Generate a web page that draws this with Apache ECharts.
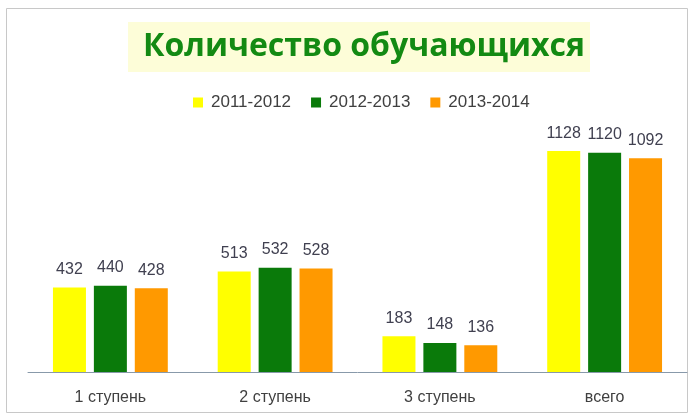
<!DOCTYPE html>
<html><head><meta charset="utf-8">
<script src="https://cdn.jsdelivr.net/npm/echarts@6/dist/echarts.min.js"></script>
<style>html,body{margin:0;padding:0;background:#fff}#c{width:693px;height:420px}</style>
</head><body><div id="c"></div>
<script>
var categories = ['1 ступень', '2 ступень', '3 ступень', 'всего'];
var seriesNames = ['2011-2012', '2012-2013', '2013-2014'];
var values2011 = [432, 513, 183, 1128];
var values2012 = [440, 532, 148, 1120];
var values2013 = [428, 528, 136, 1092];
var colors = ['#ffff00', '#0a7a0a', '#ff9900'];
var FONT = 'Liberation Sans';
var chart = echarts.init(document.getElementById('c'));
function mk(name, data, color) {
  return {
    name: name, type: 'bar', data: data, barWidth: 33, barGap: '24%',
    itemStyle: { color: color },
    label: { show: true, position: 'top', distance: 10, color: '#404050', fontSize: 16, fontFamily: FONT }
  };
}
chart.setOption({
  animation: false,
  backgroundColor: '#fff',
  graphic: [
    { type: 'rect', shape: { x: 6.5, y: 8.5, width: 681, height: 404 }, style: { fill: 'none', stroke: '#c8c8c8', lineWidth: 1 } },
    { type: 'rect', shape: { x: 128, y: 22, width: 462, height: 50 }, style: { fill: '#fdfdd8' }, z: -1 }
  ],
  title: {
    text: 'Количество обучающихся', left: 359, top: 26, textAlign: 'center',
    textStyle: { color: '#138a13', fontSize: 32, fontWeight: 'bold', fontFamily: 'Open Sans' }
  },
  legend: {
    data: seriesNames, top: 89, left: 188, itemWidth: 10, itemHeight: 10, itemGap: 20,
    icon: 'rect', textStyle: { color: '#404040', fontSize: 17, padding: [0, 0, 0, 3], fontFamily: FONT }
  },
  grid: { left: 28, right: 6, top: 137, bottom: 48 },
  xAxis: {
    type: 'category', data: categories,
    axisLine: { lineStyle: { color: '#8899aa' } }, axisTick: { show: false },
    axisLabel: { color: '#404040', fontSize: 16, margin: 18, fontFamily: FONT }
  },
  yAxis: { type: 'value', min: 0, max: 1200, show: false, splitLine: { show: false } },
  series: [mk(seriesNames[0], values2011, colors[0]), mk(seriesNames[1], values2012, colors[1]), mk(seriesNames[2], values2013, colors[2])]
});
</script></body></html>
